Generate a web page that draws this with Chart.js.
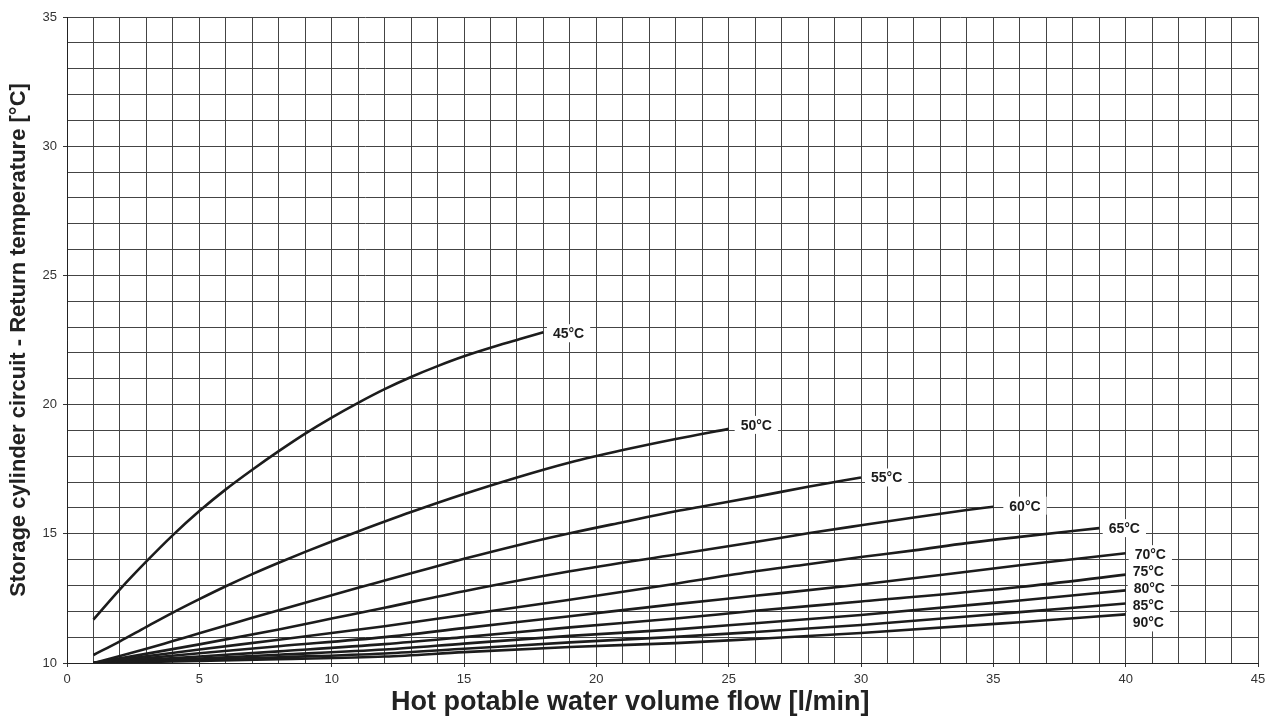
<!DOCTYPE html>
<html>
<head>
<meta charset="utf-8">
<script src="https://cdn.jsdelivr.net/npm/chart.js@4.4.1/dist/chart.umd.min.js"></script>
<style>
  html, body { margin: 0; padding: 0; background: #fff; }
  #wrap { width: 1274px; height: 718px; position: relative; }
</style>
</head>
<body>
<div id="wrap"><canvas id="chart"></canvas></div>
<script>
// Curve labels (hot water temperature)
const curveNames = ['45°C', '50°C', '55°C', '60°C', '65°C', '70°C', '75°C', '80°C', '85°C', '90°C'];

// Hot potable water volume flow [l/min] and return temperature [°C] per curve
const x45 = [1, 2, 3, 4, 5, 6, 7, 8, 9, 10, 11, 12, 13, 14, 15, 16, 17, 18];
const y45 = [11.68, 12.85, 13.93, 14.95, 15.88, 16.72, 17.48, 18.2, 18.88, 19.5, 20.07, 20.6, 21.07, 21.49, 21.87, 22.2, 22.5, 22.8];
const x50 = [1, 2, 3, 4, 5, 6, 7, 8, 9, 10, 11, 13, 15, 17, 19, 21, 23, 25];
const y50 = [10.31, 10.84, 11.4, 11.95, 12.47, 12.97, 13.44, 13.88, 14.3, 14.7, 15.09, 15.84, 16.54, 17.18, 17.76, 18.24, 18.67, 19.06];
const x55 = [1, 2, 3, 4, 5, 6, 7, 8, 9, 10, 11, 12, 13, 15, 17, 19, 21, 23, 24, 26, 28, 30];
const y55 = [10.0, 10.27, 10.55, 10.85, 11.15, 11.45, 11.75, 12.04, 12.33, 12.62, 12.91, 13.19, 13.47, 14.03, 14.55, 15.02, 15.45, 15.87, 16.06, 16.43, 16.82, 17.18];
const x60 = [1, 5, 8, 10, 12, 15, 19, 23, 26, 28, 30, 32, 34, 35];
const y60 = [10.0, 10.72, 11.3, 11.72, 12.14, 12.78, 13.55, 14.2, 14.68, 15.02, 15.33, 15.63, 15.92, 16.05];
const x65 = [1, 5, 8, 10, 12, 15, 19, 23, 26, 28, 30, 32, 34, 36, 39];
const y65 = [10.0, 10.52, 10.9, 11.16, 11.42, 11.86, 12.45, 13.07, 13.55, 13.82, 14.1, 14.36, 14.64, 14.88, 15.22];
const xHigh = [1, 5, 8, 12, 15, 19, 23, 26, 30, 36, 40];
const y70 = [10.0, 10.38, 10.65, 11.0, 11.35, 11.81, 12.28, 12.6, 13.04, 13.78, 14.25];
const y75 = [10.0, 10.25, 10.45, 10.73, 11.0, 11.38, 11.72, 12.02, 12.38, 12.94, 13.42];
const y80 = [10.0, 10.17, 10.32, 10.52, 10.75, 11.05, 11.3, 11.54, 11.86, 12.42, 12.81];
const y85 = [10.0, 10.12, 10.22, 10.37, 10.55, 10.8, 11.01, 11.2, 11.47, 11.97, 12.3];
const y90 = [10.0, 10.08, 10.15, 10.25, 10.42, 10.62, 10.77, 10.93, 11.16, 11.58, 11.88];

const curveX = [x45, x50, x55, x60, x65, xHigh, xHigh, xHigh, xHigh, xHigh];
const curveY = [y45, y50, y55, y60, y65, y70, y75, y80, y85, y90];

// Axis ranges, tick spacing and titles
const xMin = 0, xMax = 45;
const yMin = 10, yMax = 35;
const majorStep = 5;
const xTitle = 'Hot potable water volume flow [l/min]';
const yTitle = 'Storage cylinder circuit - Return temperature [°C]';

// label placement next to the curve ends (pixels)
const labelGap = [9.5, 12, 10, 16, 9.5, 9, 7, 8, 7, 7];
const labelShift = [1, -4, 0, -1, 0, 1, -3, -2, 2, 8];

const FONT = '"Liberation Sans", Arial, Helvetica, sans-serif';
const INK = '#1c1c1c';

const datasets = curveNames.map((name, i) => ({
    label: name,
    data: curveX[i].map((x, k) => ({ x: x, y: curveY[i][k] })),
    borderColor: INK,
    borderWidth: 2.6,
    pointRadius: 0,
    fill: false,
    cubicInterpolationMode: 'monotone'
}));

// Draws the white-boxed temperature labels at the end of every curve,
// plus the x axis title (it sits a little left of the plot centre)
const curveLabels = {
    id: 'curveLabels',
    afterDatasetsDraw(chart) {
        const ctx = chart.ctx;
        const xs = chart.scales.x;
        const ys = chart.scales.y;
        ctx.save();
        ctx.font = 'bold 14px ' + FONT;
        ctx.textBaseline = 'middle';
        ctx.textAlign = 'left';
        const items = chart.data.datasets.map((ds, i) => {
            const last = ds.data[ds.data.length - 1];
            const tx = xs.getPixelForValue(last.x) + labelGap[i];
            const ty = ys.getPixelForValue(last.y) + labelShift[i];
            return { text: ds.label, tx: tx, ty: ty, w: ctx.measureText(ds.label).width };
        });
        ctx.fillStyle = '#ffffff';
        items.forEach(it => ctx.fillRect(it.tx - 6, it.ty - 9, it.w + 12, 18));
        ctx.fillStyle = INK;
        items.forEach(it => ctx.fillText(it.text, it.tx, it.ty + 1));

        const area = chart.chartArea;
        ctx.font = 'bold 27px ' + FONT;
        ctx.textAlign = 'center';
        ctx.fillStyle = '#222';
        ctx.fillText(xTitle, area.left + (area.right - area.left) * 0.473, area.bottom + 40);
        ctx.restore();
    }
};

const gridColor = '#444';
const majorTick = ctx => (ctx.tick && ctx.tick.value % majorStep === 0) ? '#333' : 'rgba(0,0,0,0)';

new Chart(document.getElementById('chart'), {
    type: 'line',
    data: { datasets: datasets },
    options: {
        responsive: true,
        maintainAspectRatio: false,
        animation: false,
        events: [],
        layout: { padding: { top: 17, right: 16, left: 0, bottom: 0 } },
        plugins: {
            legend: { display: false },
            tooltip: { enabled: false }
        },
        scales: {
            x: {
                type: 'linear',
                min: xMin,
                max: xMax,
                afterFit: s => { s.height = 55; },
                border: { color: '#222', width: 1 },
                grid: { color: gridColor, lineWidth: 1, tickLength: 4, tickColor: majorTick },
                ticks: {
                    stepSize: 1,
                    autoSkip: false,
                    maxRotation: 0,
                    padding: 5,
                    color: '#333',
                    font: { family: FONT, size: 13 },
                    callback: v => (v % majorStep === 0 ? String(v) : '')
                },
                title: { display: false }
            },
            y: {
                type: 'linear',
                min: yMin,
                max: yMax,
                afterFit: s => { s.width = 67; },
                border: { color: '#222', width: 1 },
                grid: { color: gridColor, lineWidth: 1, tickLength: 4, tickColor: majorTick },
                ticks: {
                    stepSize: 1,
                    autoSkip: false,
                    padding: 6,
                    color: '#333',
                    font: { family: FONT, size: 13 },
                    callback: v => (v % majorStep === 0 ? String(v) : '')
                },
                title: {
                    display: true,
                    text: yTitle,
                    color: '#222',
                    font: { family: FONT, size: 22, weight: 'bold' },
                    padding: { top: 6, bottom: 0 }
                }
            }
        }
    },
    plugins: [curveLabels]
});
</script>
</body>
</html>
